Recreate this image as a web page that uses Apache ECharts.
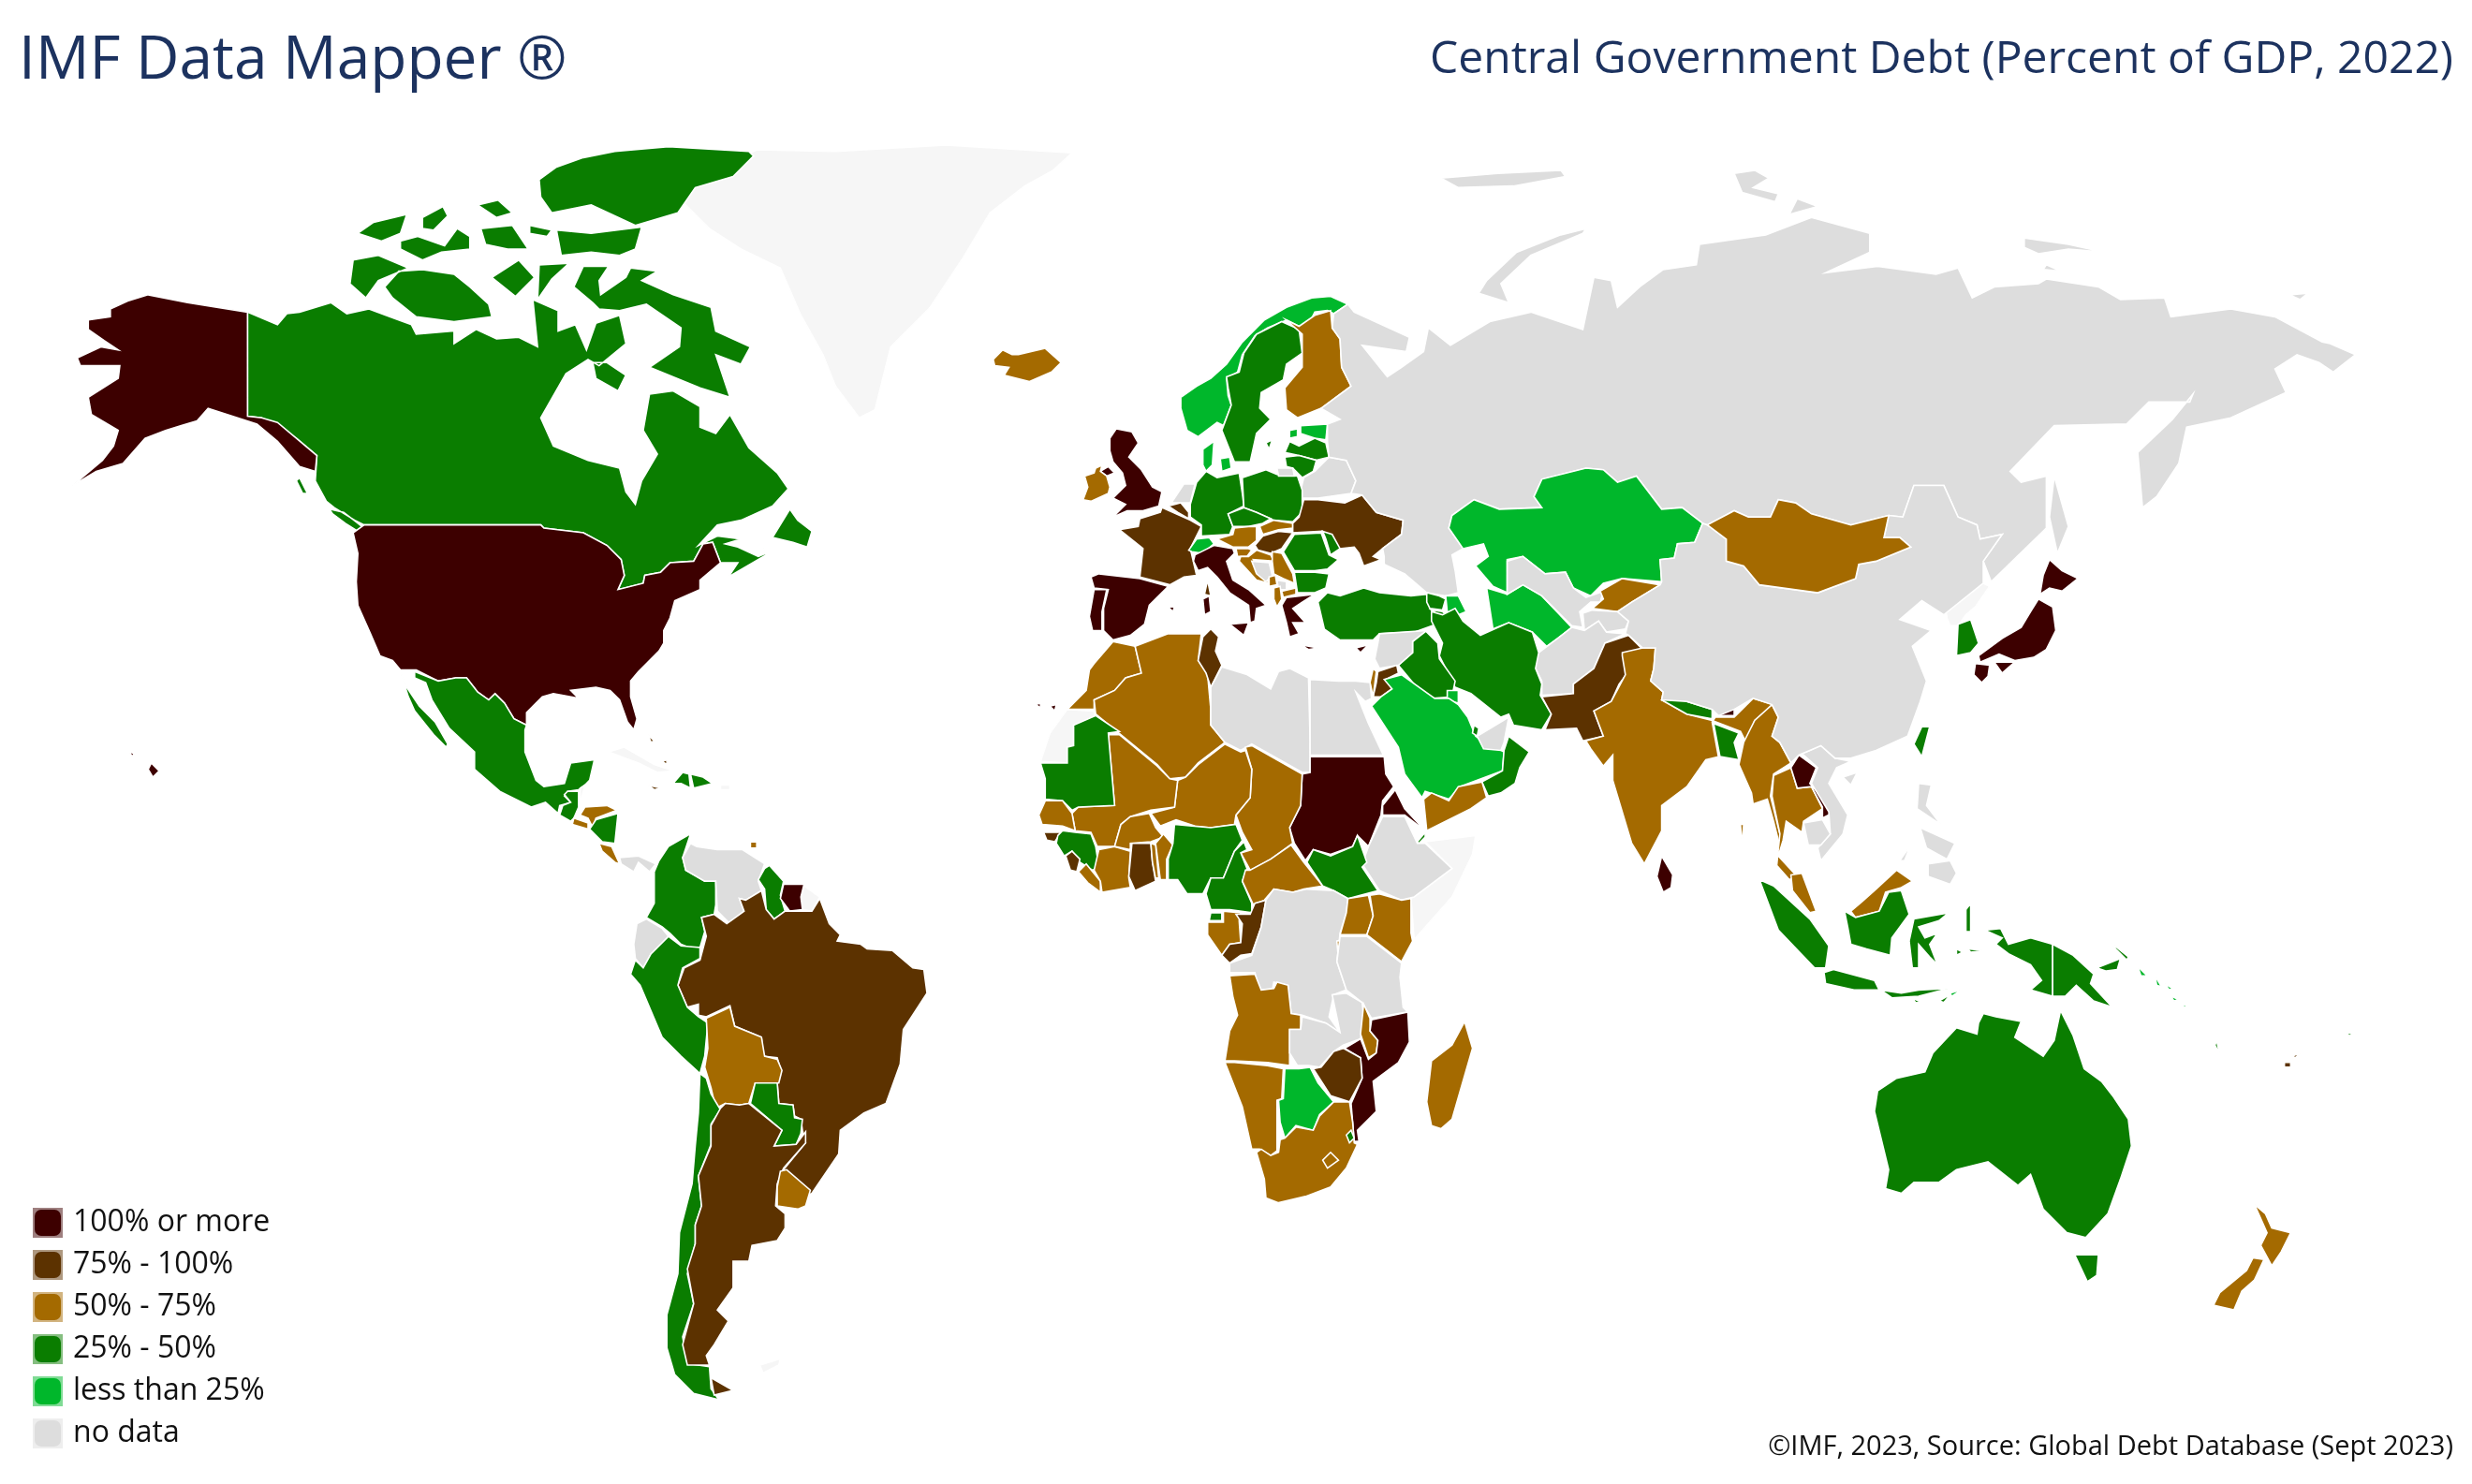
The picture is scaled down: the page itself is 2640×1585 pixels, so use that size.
<!DOCTYPE html>
<html>
<head>
<meta charset="utf-8">
<title>IMF Data Mapper</title>
<style>html,body{margin:0;background:#fff}#map{width:2640px;height:1585px}</style>
<script src="https://cdn.jsdelivr.net/npm/echarts@6/dist/echarts.min.js"></script>
</head>
<body>
<div id="map"></div>
<script>
// band labels, top to bottom
var bandLabels = ['100% or more', '75% - 100%', '50% - 75%', '25% - 50%', 'less than 25%', 'no data'];
var bandColors = ['#3d0000', '#5c3200', '#a46a00', '#0a7d00', '#00b72b', '#dddddd'];
var bandEdges  = ['#9e7f7f', '#ae9880', '#d2b480', '#85be80', '#80db95', '#eeeeee'];

// only the colour band can be read from the picture, so values are estimates inside the band
var debtHigh = {'United States':112,'Japan':215,'Italy':128,'Spain':102,'Portugal':107,'Greece':170,'United Kingdom':101,'Sudan':180,'Eritrea':160,'Mozambique':102,'Sri Lanka':114,'Laos':110,'Bhutan':118,'Suriname':105};
var debtUpper = {'France':95,'Belgium':88,'Hungary':76,'Ukraine':78,'Brazil':84,'Argentina':85,'Tunisia':79,'Jordan':88,'Pakistan':77,'Ghana':82,'Sierra Leone':85,'Guinea-Bissau':80,'Congo':90,'Zimbabwe':95,'Jamaica':77,'Bahamas':85,'Fiji':80};
var debtMiddle = {'Iceland':66,'Ireland':52,'Finland':60,'Austria':70,'Slovakia':58,'Slovenia':68,'Croatia':66,'Serbia':55,'Montenegro':71,'Albania':64,'North Macedonia':52,'Mongolia':70,'Kyrgyzstan':52,'India':58,'Myanmar':62,'Thailand':56,'Malaysia':60,'New Zealand':54,'Bolivia':55,'Uruguay':58,'Honduras':51,'El Salvador':72,'Costa Rica':63,'Trinidad':60,'Morocco':70,'Algeria':55,'Mali':53,'Niger':56,'Chad':52,'Senegal':72,'Liberia':54,'Ivory Coast':56,'Burkina Faso':58,'Togo':66,'Benin':54,'Central African Rep.':60,'Gabon':65,'Angola':66,'Namibia':68,'South Africa':70,'Lesotho':56,'Malawi':74,'Madagascar':52,'Kenya':68,'Uganda':52,'Rwanda':61,'Yemen':66,'Israel':58};
var debtLow = {'Canada':45,'Mexico':42,'Guatemala':29,'Nicaragua':44,'Haiti':27,'Dominican Rep.':47,'Colombia':49,'Guyana':30,'Peru':33,'Paraguay':38,'Chile':37,'Germany':44,'Poland':46,'Czechia':42,'Latvia':40,'Lithuania':36,'Sweden':27,'Romania':47,'Moldova':33,'Bulgaria':26,'Turkey':34,'Georgia':39,'Armenia':46,'Iran':30,'Iraq':45,'Qatar':42,'Oman':40,'South Korea':48,'Taiwan':28,'Bangladesh':38,'Nepal':41,'Indonesia':39,'Papua New Guinea':48,'Australia':42,'Vanuatu':40,'Samoa':35,'Mauritania':48,'Guinea':35,'Nigeria':38,'Cameroon':44,'Eq. Guinea':36,'South Sudan':40,'Djibouti':42,'Eswatini':41};
var debtLowest = {'Norway':18,'Denmark':22,'Estonia':17,'Switzerland':21,'Kazakhstan':20,'Turkmenistan':8,'Azerbaijan':17,'Saudi Arabia':22,'Kuwait':7,'Botswana':19,'Solomon Is.':15,'East Timor':12};
var noData = ['Russia','China','Belarus','Netherlands','Kosovo','Bosnia','Uzbekistan','Tajikistan','Afghanistan','Syria','UAE','Vietnam','Cambodia','Philippines','Libya','Egypt','Ethiopia','DR Congo','Tanzania','Zambia','Venezuela','Ecuador','Panama'];

// outlines, on a 1568 wide sheet
var shapes = {
'Greenland':['480,95 530,96 600,92 680,97 668,108 650,118 628,135 610,165 590,195 565,220 555,260 545,265 530,245 522,225 508,200 495,170 470,158 450,145 430,125 445,112'],
'Cuba':['386,477 396,474 415,485 427,489 417,490 405,484 394,480'],
'Puerto Rico':['457,498 463,498 463,501 457,501'],
'Somaliland':['904,534 936,530 934,542 921,569 897,596 895,570 921,551'],
'Western Sahara':['677,450 694,451 695,460 681,460 681,473 677,474 677,484 660,483 666,465'],
'French Guiana':['510,562 520,569 515,578 509,577 508,569'],
'Falklands':['482,866 495,862 494,866 484,871'],
'North Korea':['1234,386 1258,370 1262,372 1253,385 1247,390 1242,397 1237,397 1235,392'],
'Canada':['157,198 176,206 182,199 190,198 210,192 220,199 234,196 250,202 261,206 264,212 288,210 288,218 302,209 315,215 329,214 341,220 338,190 354,197 354,210 365,206 372,222 378,205 393,200 397,218 380,232 373,228 359,237 343,265 351,283 373,292 393,297 397,312 403,320 407,305 417,288 408,273 412,250 427,248 444,258 444,271 454,275 463,263 475,284 493,300 500,310 490,321 470,330 455,333 443,346 455,340 470,342 460,345 468,347 481,353 486,351 483,346 486,352 462,366 468,357 457,357 452,344 446,345 440,356 425,357 419,363 409,365 408,370 392,374 396,365 394,355 385,346 370,338 345,335 343,333 231,333 225,330 212,322 207,318 200,305 201,289 188,278 178,272 166,265 157,264','209,323 218,325 231,335 227,337 219,332 211,326','190,303 195,313 192,313 188,305','353,106 370,100 390,96 424,93 475,96 478,99 465,112 441,119 430,135 403,143 375,130 350,135 343,125 342,114','353,146 375,148 407,144 403,158 393,162 375,160 356,162','227,148 237,141 258,136 254,148 242,153','268,138 281,131 284,137 275,146 268,145','254,153 265,150 282,156 290,145 298,150 298,158 280,160 268,165 254,158','305,145 325,143 335,158 322,158 308,155','303,130 316,127 325,135 315,138','336,143 350,146 347,150 336,148','224,165 240,162 259,170 240,178 232,189 222,180','244,182 253,172 268,171 288,174 298,182 310,193 312,201 288,204 264,201 249,189','312,176 329,165 339,176 327,188','342,168 361,167 350,177 341,190','364,182 370,169 386,169 380,178 381,187 397,176 400,170 417,172 407,178 427,187 451,195 454,210 476,220 470,231 454,225 463,252 444,246 412,233 431,220 432,208 410,193 393,197 380,196 376,192','376,230 385,230 397,238 392,248 378,240','490,341 501,323 506,330 515,337 512,347 503,344'],
'United States':['231,333 343,333 345,335 370,338 385,346 394,355 396,365 392,374 408,370 409,365 419,363 425,357 440,356 446,345 452,344 457,357 444,368 444,374 428,381 425,392 421,400 421,408 418,413 405,426 400,432 400,442 404,456 402,463 398,458 393,444 387,438 378,436 362,438 367,443 351,440 344,442 334,452 334,460 326,456 320,446 314,440 310,444 303,439 296,430 289,430 278,432 264,425 254,425 249,419 241,416 235,402 227,384 226,369 227,351 224,338','94,187 119,192 157,198 157,264 166,265 176,268 188,278 201,289 200,299 190,296 176,280 163,269 132,259 125,267 115,270 105,273 92,278 78,294 61,299 46,308 65,292 72,283 75,273 58,263 56,252 75,240 76,232 51,232 49,227 64,220 75,222 66,216 56,209 56,203 70,201 70,196 81,191','96,484 101,489 97,493 94,488','82,477 85,478 84,480'],
'Mexico':['263,426 278,432 289,430 296,430 303,439 310,444 314,440 320,446 326,456 334,460 333,463 333,477 340,495 345,499 358,497 362,484 377,482 374,495 371,498 367,501 360,502 358,505 362,509 355,511 354,516 346,509 337,512 317,502 301,488 301,477 285,462 274,444 270,433 263,430','254,426 258,436 266,448 276,458 284,472 283,474 275,466 263,451 259,442'],
'Guatemala':['367,502 367,512 364,519 362,521 355,517 357,511 362,509 358,504 360,502'],
'Belize':['371,498 368,510 368,500'],
'El Salvador':['364,519 373,522 373,526 363,523'],
'Honduras':['368,517 371,512 385,511 391,514 378,519 376,525 373,519'],
'Nicaragua':['392,516 390,535 382,534 374,526 378,520'],
'Costa Rica':['380,535 388,537 393,548 390,547 382,540'],
'Panama':['393,544 405,543 416,548 412,553 405,547 402,553 394,548'],
'Jamaica':['411,498 419,500 415,501'],
'Haiti':['427,497 433,490 437,491 438,500 432,497'],
'Dominican Rep.':['438,491 446,493 452,497 440,500'],
'Bahamas':['411,466 415,470 413,471','420,483 423,482 423,485'],
'Trinidad':['476,534 480,534 480,538 476,538'],
'Colombia':['438,529 433,544 435,552 447,559 454,559 454,574 453,580 445,582 447,591 444,601 437,601 432,599 425,592 420,588 410,582 415,573 415,553 418,546 424,537'],
'Venezuela':['433,544 438,535 442,537 455,539 471,539 485,548 481,559 483,565 473,571 469,570 472,578 463,586 455,578 454,559 447,559 435,552'],
'Guyana':['485,551 488,549 497,559 495,568 498,578 491,583 486,577 485,564 481,558'],
'Suriname':['497,561 510,561 508,569 509,577 501,578 495,570'],
'Brazil':['520,570 526,586 533,593 531,597 546,599 550,602 566,603 579,614 586,615 588,630 573,653 571,675 562,700 548,706 533,717 532,732 515,757 513,758 497,742 511,725 509,717 508,710 504,708 503,701 494,700 493,687 495,678 493,671 484,670 483,658 466,651 463,638 448,645 443,644 443,637 436,639 430,625 434,614 444,609 448,594 445,582 453,580 461,586 472,578 469,570 473,571 483,565 486,577 491,583 498,578 509,578 515,578'],
'Ecuador':['410,583 420,589 424,594 421,600 413,605 408,614 403,608 402,599 404,586'],
'Peru':['403,609 408,614 413,605 424,594 432,600 444,601 444,608 433,614 430,625 436,639 443,645 449,649 447,670 444,681 432,670 420,658 406,625 400,618'],
'Bolivia':['448,646 463,639 466,651 483,658 485,670 493,672 496,679 494,687 479,687 475,700 469,701 460,700 454,703 451,690 447,677 449,665'],
'Paraguay':['479,687 493,687 494,700 503,701 504,709 509,710 508,719 505,726 491,727 496,717 476,700'],
'Chile':['444,681 448,684 451,694 457,704 451,713 451,726 443,746 445,765 441,777 441,789 436,808 440,827 433,848 436,865 450,867 451,881 456,888 440,884 428,872 423,855 423,834 430,808 431,782 439,751 441,727 443,706'],
'Argentina':['457,703 460,700 469,701 475,700 496,717 491,727 505,726 511,718 511,725 497,741 493,751 492,765 498,770 498,779 493,787 477,790 475,800 465,800 465,817 455,831 462,838 453,853 448,860 450,866 436,866 433,853 440,827 436,805 441,789 441,777 445,765 443,746 451,727 451,714','451,874 465,882 453,885'],
'Uruguay':['495,743 499,742 514,755 511,765 506,767 493,765 493,753'],
'Iceland':['630,228 636,222 642,225 646,225 663,221 673,230 667,236 653,242 637,238 640,233 631,232'],
'United Kingdom':['708,272 718,274 722,281 716,290 724,298 731,309 737,312 735,321 725,324 715,324 706,328 714,320 706,316 714,308 712,300 706,293 704,286 704,278','698,299 703,296 707,300 702,302'],
'Ireland':['688,302 694,300 695,297 699,295 698,299 702,302 704,309 703,313 692,318 687,317 690,309'],
'Spain':['692,366 697,364 723,367 741,372 729,384 726,396 717,403 706,406 700,400 700,386 703,374 694,373','741,385 745,385 744,388','657,447 660,446 660,449','666,448 670,447 669,451'],
'Portugal':['694,374 702,374 699,388 699,400 693,400 691,391'],
'France':['737,322 755,330 762,334 755,348 759,365 751,366 742,371 723,366 725,348 710,336 722,334 723,329 736,325','766,368 768,378 764,377'],
'Belgium':['741,321 749,319 754,325 754,329 747,325'],
'Netherlands':['743,319 751,307 758,307 755,319 749,319'],
'Germany':['759,306 765,299 772,303 786,300 788,313 789,321 779,326 782,334 780,339 762,340 762,333 755,328 755,320'],
'Denmark':['763,285 770,280 769,295 765,299 763,295','774,291 780,290 781,297 775,299'],
'Norway':['749,252 759,245 768,240 778,231 788,217 802,203 816,195 832,189 844,188 855,193 846,199 842,197 834,198 830,206 824,207 816,203 804,208 796,213 788,225 785,236 778,240 779,251 781,257 776,270 772,268 760,277 753,273 749,259'],
'Sweden':['778,239 786,236 789,224 797,212 813,204 824,209 826,224 816,231 814,241 800,249 799,259 806,266 797,275 793,293 783,293 775,273 781,257 779,246','803,281 807,279 805,285'],
'Finland':['816,203 824,207 834,200 844,197 845,208 850,215 851,233 857,245 838,259 823,265 816,260 815,246 826,233 826,212'],
'Estonia':['825,270 842,269 841,279 834,278 825,275','818,273 823,272 823,277 818,278'],
'Latvia':['815,287 818,280 824,283 834,278 841,281 843,290 835,292 824,289'],
'Lithuania':['815,290 824,289 835,292 833,299 826,303 820,297 816,296'],
'Belarus':['827,303 834,299 843,290 854,292 860,305 857,313 836,316 824,316 826,307'],
'Poland':['788,303 803,298 810,301 823,302 826,311 826,325 820,331 808,330 797,325 789,322'],
'Czechia':['779,326 789,322 797,325 806,329 801,332 792,334 782,334'],
'Slovakia':['799,334 808,330 820,332 820,335 811,336 801,339'],
'Austria':['772,342 782,339 783,335 792,334 797,334 797,343 792,347 782,347'],
'Switzerland':['754,349 759,342 767,341 770,345 763,351 756,350'],
'Hungary':['796,346 801,340 811,337 820,338 813,348 806,351 798,349'],
'Slovenia':['784,348 792,348 794,349 791,353 785,353'],
'Croatia':['792,353 797,349 806,352 808,356 795,355 805,370 797,368 786,356 787,353'],
'Bosnia':['794,356 805,357 807,365 803,369 797,364'],
'Serbia':['807,350 813,351 820,364 821,370 814,367 808,364 807,356'],
'Montenegro':['805,366 809,365 810,371 805,372'],
'Kosovo':['810,368 816,369 816,374 811,374'],
'North Macedonia':['813,375 822,373 822,377 814,379'],
'Albania':['808,373 812,372 813,380 810,385 808,380'],
'Greece':['813,384 816,379 834,377 826,382 820,386 828,395 820,395 824,402 818,404 816,395','825,409 836,411 830,412','860,411 868,409 863,414'],
'Italy':['758,352 770,346 782,348 783,351 778,356 782,368 792,374 803,384 797,386 796,394 793,395 792,384 780,376 772,366 766,360 760,362 757,356','780,396 792,395 789,403','763,380 767,378 768,388 764,390'],
'Ukraine':['824,328 827,317 836,317 853,319 864,314 873,325 890,330 889,339 877,348 871,353 876,355 865,359 862,351 859,347 850,348 846,353 849,348 839,337 820,338 820,332'],
'Moldova':['839,337 845,339 850,348 844,352 841,342'],
'Romania':['814,350 821,339 838,338 843,352 849,355 842,361 834,362 821,362'],
'Bulgaria':['821,363 834,363 843,364 841,373 834,376 823,376'],
'Turkey':['836,382 842,376 850,378 865,373 875,376 895,378 905,377 911,396 897,401 875,402 871,406 850,406 840,399 837,386'],
'Russia':['855,193 859,198 894,214 892,223 864,219 880,239 889,233 903,223 906,208 920,219 945,204 971,198 1004,209 1011,176 1022,178 1026,195 1040,182 1055,171 1076,168 1078,155 1120,149 1149,138 1186,148 1186,160 1158,173 1191,169 1228,174 1242,170 1251,189 1265,182 1293,180 1298,177 1331,182 1345,190 1373,189 1377,201 1415,196 1443,201 1473,217 1478,218 1494,225 1480,236 1471,230 1457,225 1443,234 1450,249 1415,265 1387,271 1382,294 1368,315 1359,322 1356,287 1378,266 1391,250 1389,255 1363,255 1349,269 1303,270 1275,299 1282,306 1298,302 1298,335 1263,369 1258,356 1270,339 1256,342 1254,333 1242,328 1233,308 1214,308 1207,328 1198,327 1174,333 1149,326 1139,319 1128,317 1123,328 1109,328 1100,324 1083,333 1080,332 1067,322 1054,323 1038,302 1026,306 1017,298 1006,297 978,304 973,315 978,322 951,323 935,317 921,327 919,335 928,348 921,352 923,362 925,376 917,378 905,376 891,364 878,358 878,353 877,348 889,339 890,330 873,325 864,314 857,313 860,305 854,292 843,290 842,280 842,269 850,266 838,259 857,245 851,233 850,215 845,208 846,199','810,297 820,297 821,302 811,302','1006,145 990,149 962,160 943,178 938,186 957,192 952,180 971,162 1004,148','1100,110 1113,108 1122,113 1112,119 1128,123 1126,128 1105,122','1140,126 1153,131 1135,136','914,113 950,110 990,108 993,112 960,118 925,119','1284,151 1312,155 1335,160 1312,158 1293,161 1284,157','1298,168 1307,172 1296,171','1452,187 1464,186 1459,190','1303,302 1312,334 1305,351 1300,328'],
'Georgia':['905,376 913,378 917,380 915,387 907,386 905,382'],
'Armenia':['908,387 915,388 920,392 914,391'],
'Azerbaijan':['917,378 925,378 930,388 925,390 918,388'],
'Kazakhstan':['919,335 921,327 935,317 951,323 978,322 973,315 978,304 1006,297 1017,298 1026,306 1038,302 1054,323 1067,322 1080,332 1075,344 1064,345 1062,354 1053,355 1054,369 1029,367 1017,370 1009,378 998,373 993,363 980,364 966,353 956,355 956,376 947,372 936,359 944,353 941,345 928,348'],
'Turkmenistan':['943,373 956,377 966,371 978,378 997,398 988,405 981,410 972,401 957,395 947,399 945,386'],
'Uzbekistan':['956,356 966,353 980,364 993,363 998,373 1006,379 1017,375 1015,382 1009,382 1002,388 1004,398 997,397 978,378 966,371 956,377'],
'Kyrgyzstan':['1015,375 1029,367 1053,371 1035,382 1026,388 1010,386 1017,380'],
'Tajikistan':['1004,389 1010,387 1026,388 1033,394 1031,399 1019,401 1014,394 1005,400'],
'Afghanistan':['976,414 988,405 997,398 1005,400 1014,394 1019,401 1031,402 1018,408 1011,424 998,434 998,440 978,441 978,432 973,422'],
'Iran':['908,388 915,390 923,386 928,394 939,403 948,399 957,395 972,401 976,414 974,424 978,434 977,441 984,453 978,463 960,460 957,453 952,455 933,440 923,436 913,416 915,408 908,394'],
'Iraq':['896,407 904,400 912,408 913,418 923,432 921,442 909,443 897,434 887,422 896,414'],
'Syria':['875,402 905,400 896,407 896,414 887,422 875,424 872,418 874,408'],
'Jordan':['874,426 886,422 887,427 879,431 883,437 876,442 871,442 873,433'],
'Israel':['871,424 873,426 871,442 869,433'],
'Kuwait':['918,438 925,438 925,446 918,444'],
'Saudi Arabia':['870,448 876,442 883,437 878,431 889,428 910,443 919,443 925,447 931,455 936,467 940,470 954,477 953,489 926,499 919,507 904,502 902,506 891,491 887,474'],
'Qatar':['935,460 938,462 937,467 934,465'],
'UAE':['937,467 957,455 954,471 952,476 941,475'],
'Oman':['957,467 970,477 964,487 961,497 952,503 944,505 940,496 953,489 954,476'],
'Yemen':['903,507 908,503 919,508 925,499 940,496 943,506 933,513 905,527'],
'Pakistan':['978,442 998,440 998,434 1011,424 1018,408 1033,403 1042,412 1030,416 1033,426 1027,434 1022,445 1011,451 1017,467 1004,470 1000,462 980,463 984,453'],
'India':['1029,414 1042,411 1050,411 1049,424 1047,432 1055,439 1054,444 1070,453 1086,457 1091,459 1104,464 1108,472 1113,457 1125,447 1112,443 1100,455 1088,455 1086,458 1090,480 1082,482 1070,499 1054,511 1054,527 1043,548 1035,535 1023,495 1023,479 1017,486 1009,475 1006,470 1017,467 1011,451 1022,445 1031,428 1029,416','1104,523 1106,523 1105,536'],
'Bangladesh':['1087,459 1103,465 1100,471 1103,482 1091,480'],
'Nepal':['1059,438 1070,445 1086,450 1086,456 1070,453 1054,444'],
'Bhutan':['1090,454 1094,448 1100,450 1100,454'],
'Myanmar':['1124,447 1128,455 1124,467 1129,471 1136,484 1125,491 1123,505 1129,529 1131,534 1129,537 1125,521 1121,507 1112,510 1111,503 1103,485 1106,471 1113,457'],
'Thailand':['1125,492 1136,487 1140,500 1149,499 1156,513 1144,521 1143,528 1133,521 1131,533 1128,543 1140,556 1135,558 1127,549 1129,529 1124,505'],
'Laos':['1141,479 1152,487 1148,497 1164,515 1156,519 1156,512 1149,499 1140,500 1136,487'],
'Vietnam':['1155,473 1164,481 1174,483 1165,487 1160,497 1172,517 1169,529 1155,546 1153,538 1161,529 1160,515 1149,497 1153,487 1143,478 1148,476'],
'Cambodia':['1144,522 1156,520 1161,529 1155,536 1147,536'],
'China':['1054,369 1053,371 1035,382 1026,388 1033,394 1031,402 1033,403 1042,411 1050,411 1049,424 1047,432 1055,439 1054,444 1070,445 1086,450 1090,454 1100,450 1112,443 1124,447 1128,455 1124,467 1129,471 1136,484 1141,479 1148,476 1155,473 1164,481 1174,481 1190,476 1210,467 1218,445 1222,432 1213,410 1225,400 1205,393 1219,381 1233,390 1258,370 1258,356 1270,339 1256,342 1254,333 1242,328 1233,308 1214,308 1207,328 1198,327 1195,341 1205,341 1212,347 1190,356 1179,358 1177,367 1153,376 1116,371 1106,359 1095,356 1095,342 1083,333 1080,332 1075,344 1064,345 1062,354 1053,355','1169,493 1178,490 1174,498'],
'Mongolia':['1083,333 1100,324 1109,328 1123,328 1128,317 1139,319 1149,326 1174,333 1198,327 1195,341 1205,341 1212,347 1190,356 1179,358 1177,367 1153,376 1116,371 1106,359 1095,356 1095,342'],
'South Korea':['1242,396 1250,393 1255,408 1250,414 1241,416'],
'Japan':['1300,355 1308,362 1318,367 1308,375 1300,373 1294,377 1296,365','1293,380 1302,385 1304,400 1298,412 1290,417 1278,419 1268,415 1256,420 1255,416 1270,405 1282,398 1288,388','1253,421 1262,422 1261,429 1257,433 1252,428','1265,420 1278,420 1270,427'],
'Taiwan':['1219,461 1224,461 1219,480 1214,472'],
'Philippines':['1217,497 1225,498 1222,511 1231,523 1216,513','1218,525 1240,535 1235,545 1222,538','1223,548 1237,546 1241,554 1237,561 1223,556','1205,546 1212,536 1208,546'],
'Sri Lanka':['1054,543 1061,555 1060,563 1055,566 1051,556'],
'Malaysia':['1136,555 1143,554 1152,578 1148,579 1137,565','1174,578 1181,572 1189,565 1203,552 1213,559 1206,563 1196,566 1192,578 1177,582'],
'Indonesia':['1170,578 1177,582 1192,578 1198,566 1206,565 1211,580 1200,595 1199,606 1184,602 1174,599 1172,588','1116,558 1125,562 1148,583 1160,600 1158,614 1151,614 1128,590','1157,617 1163,615 1189,622 1192,628 1176,628 1158,624','1193,628 1206,630 1217,628 1236,627 1217,632 1200,633','1213,633 1219,636 1215,636','1230,635 1237,631 1233,636','1214,583 1236,579 1230,584 1217,588 1221,595 1229,592 1224,599 1229,612 1224,607 1217,599 1217,614 1213,614 1211,597','1247,577 1250,573 1250,591 1247,591','1248,602 1259,603 1250,604','1241,602 1245,604 1241,606','1259,590 1269,589 1274,599 1288,595 1302,599 1302,632 1288,628 1295,622 1288,612 1274,605 1266,599 1270,595'],
'East Timor':['1237,630 1244,628 1238,632'],
'Papua New Guinea':['1302,599 1315,606 1328,618 1326,624 1339,638 1340,639 1328,635 1317,625 1310,632 1302,632','1330,614 1345,608 1343,615 1336,616','1339,598 1350,607 1349,609 1342,602'],
'Solomon Is.':['1356,613 1362,619 1358,619','1367,619 1371,626 1368,625','1373,624 1378,627 1376,628','1377,632 1382,634 1379,635','1385,637 1388,639 1385,639'],
'Vanuatu':['1406,660 1408,669 1405,663'],
'Fiji':['1449,674 1453,674 1453,677 1449,677','1454,670 1459,668 1456,671'],
'Samoa':['1488,655 1493,656 1490,657'],
'Australia':['1258,643 1266,645 1282,648 1278,658 1296,670 1303,660 1307,641 1315,657 1322,678 1333,686 1340,695 1350,710 1352,727 1345,748 1337,770 1323,785 1311,782 1296,767 1288,745 1280,752 1261,737 1241,742 1230,750 1214,750 1206,757 1196,754 1198,742 1189,705 1191,692 1203,684 1221,680 1226,668 1241,652 1254,656 1255,649','1316,796 1331,796 1330,809 1324,813'],
'New Zealand':['1430,764 1437,770 1441,779 1453,782 1447,794 1441,803 1434,790 1438,782','1436,799 1430,812 1422,819 1417,831 1404,828 1408,820 1425,806 1429,798'],
'Morocco':['694,421 706,407 720,410 724,427 714,430 707,438 694,444 694,450 677,450 689,438 691,425'],
'Algeria':['720,410 741,402 762,402 760,419 766,428 768,450 768,460 777,471 760,484 752,493 742,494 734,485 695,453 694,444 707,438 714,430 724,427'],
'Tunisia':['763,404 768,399 773,404 771,413 775,422 768,436 765,427 760,419'],
'Libya':['775,423 791,428 806,437 811,426 818,424 830,430 831,470 831,490 826,490 794,472 787,476 777,471 768,460 768,436'],
'Egypt':['831,431 849,432 860,432 869,433 870,443 866,445 860,439 868,459 877,478 877,479 831,479'],
'Sudan':['831,480 878,480 879,491 884,499 877,508 876,517 868,537 861,530 858,537 844,542 833,539 828,546 821,535 818,525 825,511 826,491 831,490'],
'Eritrea':['877,511 885,501 891,513 904,527 891,517 877,517'],
'Djibouti':['899,534 904,528 904,531 900,535'],
'Ethiopia':['877,518 891,518 899,535 904,535 921,551 897,569 889,571 875,565 864,548 868,537'],
'Chad':['794,473 826,491 825,511 818,525 820,535 806,545 793,552 787,541 794,539 788,528 784,517 793,506 794,488 790,474'],
'Niger':['777,472 787,477 790,476 794,488 793,506 784,517 783,523 768,525 758,524 746,520 736,524 730,516 745,512 747,495 752,493 760,485'],
'Mali':['703,466 710,466 734,486 742,494 747,495 745,512 730,514 717,518 711,523 707,537 696,537 692,528 682,527 680,516 684,512 707,511'],
'Mauritania':['681,460 695,454 710,464 703,465 707,511 684,512 680,514 674,508 663,507 663,494 660,484 677,484 677,474 681,473'],
'Senegal':['663,508 674,508 680,516 682,527 674,524 661,523 659,517'],
'Guinea-Bissau':['662,528 673,528 669,534 664,533'],
'Guinea':['671,530 674,527 682,528 692,529 695,537 697,550 693,552 685,547 680,540 675,543 670,535'],
'Sierra Leone':['676,543 680,540 685,545 683,553 679,552'],
'Liberia':['684,553 689,548 693,553 698,559 698,566 690,560'],
'Ivory Coast':['697,539 707,537 717,540 716,557 717,563 699,566 698,559 694,552'],
'Burkina Faso':['707,537 711,523 717,518 729,516 733,525 738,531 730,534 717,535 717,539'],
'Ghana':['718,535 730,535 731,547 733,559 720,565 716,556'],
'Togo':['730,535 733,536 735,557 733,557 731,547'],
'Benin':['733,535 738,529 744,536 740,545 740,558 736,558'],
'Nigeria':['745,523 756,524 768,525 784,523 788,533 783,540 776,557 768,557 763,567 753,567 747,558 741,558 741,545 744,535'],
'Cameroon':['789,534 791,539 787,541 791,551 788,559 794,573 794,579 780,577 768,577 765,567 768,557 776,557 783,540'],
'Central African Rep.':['793,552 806,545 819,536 827,547 839,562 827,564 820,566 808,564 802,571 795,574 788,559 790,552'],
'South Sudan':['829,547 833,539 844,543 858,537 861,530 867,547 864,550 874,565 855,570 846,565 839,562'],
'Eq. Guinea':['768,579 775,579 775,584 767,584'],
'Gabon':['776,578 787,579 786,584 787,598 780,599 775,606 766,593 766,585 776,585'],
'Congo':['784,580 793,580 796,573 803,571 800,588 794,605 787,606 780,611 775,606 780,599 787,598 788,586'],
'DR Congo':['803,571 808,564 820,566 829,564 846,565 855,570 854,579 850,592 848,610 854,628 846,631 843,645 850,655 841,649 826,644 819,643 817,625 808,623 807,628 799,628 796,617 780,617 780,611 794,606 800,588'],
'Uganda':['855,570 868,568 871,581 867,593 850,593 854,579'],
'Kenya':['869,568 875,567 889,571 895,570 895,592 896,597 889,610 867,593 871,581'],
'Rwanda':['848,597 853,596 852,605 849,609'],
'Tanzania':['850,594 867,594 889,611 888,620 890,639 893,642 870,646 864,636 854,628 848,610'],
'Angola':['780,619 796,618 800,628 808,627 810,623 817,625 819,643 825,644 825,653 818,653 818,676 804,674 783,673 777,673 780,654 785,644 782,632'],
'Zambia':['826,645 841,649 850,655 845,631 854,630 864,636 865,645 863,659 852,663 846,667 837,677 830,676 823,676 818,668 818,653 825,653'],
'Malawi':['865,637 869,646 869,654 874,660 873,668 868,671 863,656'],
'Mozambique':['870,647 893,642 894,661 887,674 871,686 873,705 861,717 862,724 859,724 857,700 864,684 863,671 853,665 863,659 868,672 873,668 874,660 869,654'],
'Zimbabwe':['833,678 838,677 846,667 852,665 863,671 864,684 856,699 844,695'],
'Botswana':['815,678 824,678 831,677 836,687 846,699 837,707 833,717 822,714 815,722 812,712 811,698 814,697'],
'Namibia':['777,674 783,674 804,676 814,678 813,697 810,698 810,730 806,733 799,729 794,729 788,702'],
'South Africa':['797,731 800,729 806,733 811,731 812,723 815,722 822,715 833,717 837,708 846,699 856,699 858,712 859,725 861,726 854,741 844,753 828,759 811,763 803,760 802,748'],
'Lesotho':['839,736 844,731 849,736 842,741'],
'Eswatini':['854,720 857,717 859,722 856,725'],
'Madagascar':['929,648 934,665 921,710 914,716 908,714 905,699 908,673 921,663']
};

var features = Object.keys(shapes).map(function (name) {
  var rings = shapes[name].map(function (s) {
    return [s.split(' ').map(function (p) { return p.split(',').map(Number); })];
  });
  return { type: 'Feature', properties: { name: name }, geometry: { type: 'MultiPolygon', coordinates: rings } };
});
echarts.registerMap('world', { type: 'FeatureCollection', features: features });

var seriesData = [];
[debtHigh, debtUpper, debtMiddle, debtLow, debtLowest].forEach(function (band) {
  Object.keys(band).forEach(function (name) { seriesData.push({ name: name, value: band[name] }); });
});
noData.forEach(function (name) { seriesData.push({ name: name, value: -1 }); });

var chart = echarts.init(document.getElementById('map'));
var font = '"Open Sans"';

chart.setOption({
  backgroundColor: '#ffffff',
  animation: false,
  title: [
    { text: 'IMF Data Mapper ®', left: 15, top: 29, textStyle: { fontFamily: font, fontSize: 64, fontWeight: 'normal', color: '#1c325f' } },
    { text: 'Central Government Debt (Percent of GDP, 2022)', right: 15, top: 35, textStyle: { fontFamily: font, fontSize: 48, fontWeight: 'normal', color: '#1c325f' } },
    { text: '©IMF, 2023, Source: Global Debt Database (Sept 2023)', right: 15, top: 1526, textStyle: { fontFamily: font, fontSize: 29, fontWeight: 'normal', color: '#111111' } }
  ],
  visualMap: {
    type: 'piecewise',
    left: 37,
    top: 1290,
    itemWidth: 28,
    itemHeight: 28,
    itemGap: 13,
    padding: 0,
    textGap: 13,
    hoverLink: false,
    selectedMode: false,
    textStyle: { fontFamily: font, fontSize: 32, color: '#111111' },
    pieces: [
      { min: 100, label: bandLabels[0], color: bandColors[0] },
      { min: 75, max: 100, label: bandLabels[1], color: bandColors[1] },
      { min: 50, max: 75, label: bandLabels[2], color: bandColors[2] },
      { min: 25, max: 50, label: bandLabels[3], color: bandColors[3] },
      { min: 0, max: 25, label: bandLabels[4], color: bandColors[4] },
      { value: -1, label: bandLabels[5], color: bandColors[5] }
    ]
  },
  graphic: bandEdges.map(function (c, i) {
    return { type: 'rect', z: -1, shape: { x: 35, y: 1290 + 45 * i, width: 32, height: 32 }, style: { fill: c } };
  }),
  series: [{
    type: 'map',
    map: 'world',
    silent: true,
    roam: false,
    left: 0,
    top: 0,
    width: 2640,
    height: 1585,
    projection: {
      project: function (p) { return [p[0], p[1]]; },
      unproject: function (p) { return [p[0], p[1]]; }
    },
    boundingCoords: [[0, 0], [1568, 941.4]],
    itemStyle: { areaColor: '#f6f6f6', borderColor: '#ffffff', borderWidth: 1.6 },
    label: { show: false },
    emphasis: { disabled: true },
    select: { disabled: true },
    data: seriesData
  }]
});
</script>
</body>
</html>
